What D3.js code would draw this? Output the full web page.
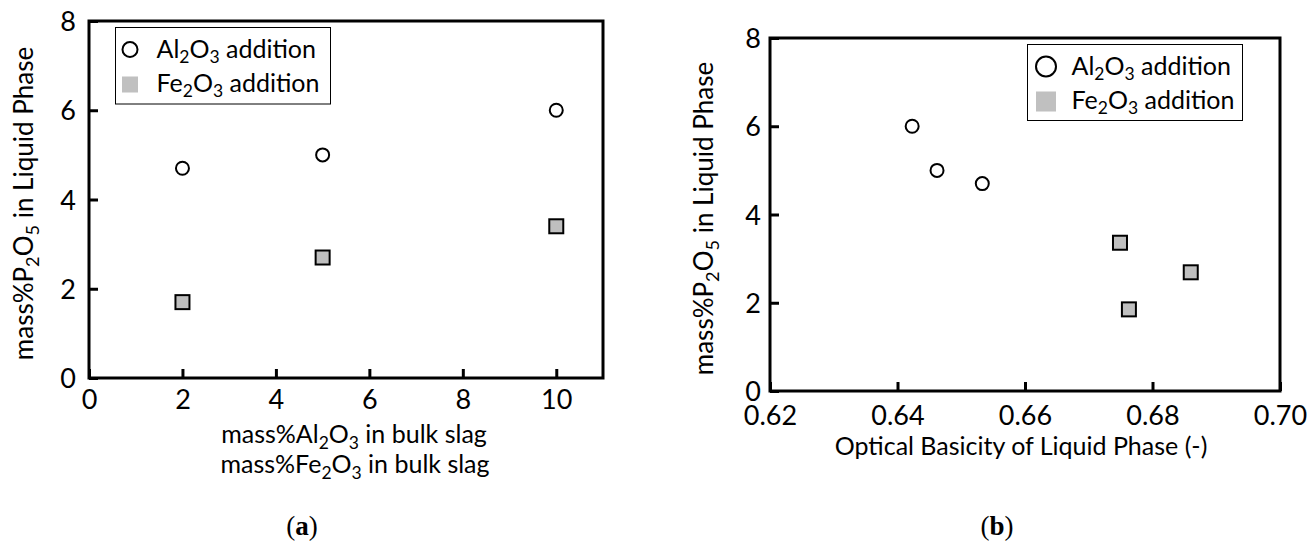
<!DOCTYPE html>
<html>
<head>
<meta charset="utf-8">
<script src="https://cdn.jsdelivr.net/npm/d3@7"></script>
<style>
  body { margin: 0; background: #fff; }
  svg text { font-family: Lato, "Open Sans", sans-serif; fill: #000; }
</style>
</head>
<body>
<script>
// values
var additions = [2, 5, 10];
var alP2O5 = [4.7, 5.0, 6.0];
var feP2O5 = [1.7, 2.7, 3.4];

var alBasicity = [0.6533, 0.6462, 0.6423];
var alP2O5b = [4.7, 5.0, 6.0];
var feBasicity = [0.6763, 0.6860, 0.6749];
var feP2O5b = [1.85, 2.69, 3.36];

var xTicksA = [0, 2, 4, 6, 8, 10];
var xTicksB = [0.62, 0.64, 0.66, 0.68, 0.70];
var yTicks = [0, 2, 4, 6, 8];

var svg = d3.select('body').append('svg')
    .attr('width', 1311).attr('height', 541);

// text with subscripts: parts = [[string, isSub], ...]
function richText(g, x, y, parts, size, anchor, rotate) {
    var t = g.append('text')
        .attr('x', x).attr('y', y)
        .attr('font-size', size)
        .attr('text-anchor', anchor || 'start');
    if (rotate) t.attr('transform', 'rotate(-90,' + x + ',' + y + ')');
    var shift = 0;
    parts.forEach(function(p) {
        var s = t.append('tspan').text(p[0]);
        var want = p[1] ? size * 0.22 : 0;
        s.attr('dy', want - shift);
        if (p[1]) s.attr('font-size', size * 0.7);
        shift = want;
    });
    return t;
}

var yTitle = [['mass%P', 0], ['2', 1], ['O', 0], ['5', 1], [' in Liquid Phase', 0]];
var alLabel = [['Al', 0], ['2', 1], ['O', 0], ['3', 1], [' addition', 0]];
var feLabel = [['Fe', 0], ['2', 1], ['O', 0], ['3', 1], [' addition', 0]];

function panel(cfg) {
    var g = svg.append('g');
    var x = d3.scaleLinear().domain(cfg.xDomain).range([cfg.left, cfg.right]);
    var y = d3.scaleLinear().domain([0, 8]).range([cfg.bottom, cfg.top]);

    // frame
    g.append('rect')
        .attr('x', cfg.left).attr('y', cfg.top)
        .attr('width', cfg.right - cfg.left).attr('height', cfg.bottom - cfg.top)
        .attr('fill', 'none').attr('stroke', '#000').attr('stroke-width', 3);

    // axes with inward ticks
    var xa = g.append('g').attr('transform', 'translate(0,' + cfg.bottom + ')')
        .call(d3.axisBottom(x).tickValues(cfg.xTicks).tickSize(-9).tickPadding(0)
            .tickFormat(cfg.xFormat));
    xa.select('.domain').remove();
    xa.selectAll('line').attr('stroke-width', 3);
    xa.selectAll('text').attr('y', cfg.xLabelDy).attr('dy', 0)
        .attr('font-size', 27).attr('font-family', 'Lato');

    var ya = g.append('g').attr('transform', 'translate(' + cfg.left + ',0)')
        .call(d3.axisLeft(y).tickValues(yTicks).tickSize(-9).tickPadding(0));
    ya.select('.domain').remove();
    ya.selectAll('line').attr('stroke-width', 3);
    ya.selectAll('text').attr('x', -cfg.yLabelGap).attr('dy', '0.36em')
        .attr('font-size', 27).attr('font-family', 'Lato');

    // data
    g.selectAll('.al').data(cfg.alX).enter().append('circle')
        .attr('cx', function(d) { return x(d); })
        .attr('cy', function(d, i) { return y(cfg.alY[i]); })
        .attr('r', 6.5).attr('fill', '#fff').attr('stroke', '#000').attr('stroke-width', 2);
    g.selectAll('.fe').data(cfg.feX).enter().append('rect')
        .attr('x', function(d) { return x(d) - 7; })
        .attr('y', function(d, i) { return y(cfg.feY[i]) - 7; })
        .attr('width', 14).attr('height', 14)
        .attr('fill', '#bfbfbf').attr('stroke', '#000').attr('stroke-width', 2);

    // legend
    var L = cfg.legend;
    g.append('rect').attr('x', L.x).attr('y', L.y).attr('width', L.w).attr('height', L.h)
        .attr('fill', '#fff').attr('stroke', '#000').attr('stroke-width', 1);
    g.append('circle').attr('cx', L.x + L.mk).attr('cy', L.y + 22).attr('r', L.r)
        .attr('fill', 'none').attr('stroke', '#000').attr('stroke-width', 2);
    g.append('rect').attr('x', L.x + L.mk - L.sq / 2).attr('y', L.y + 57 - L.sq / 2)
        .attr('width', L.sq).attr('height', L.sq).attr('fill', '#c0c0c0');
    richText(g, L.x + L.tx, L.y + 30, alLabel, 25);
    richText(g, L.x + L.tx, L.y + 64, feLabel, 25);

    // titles
    richText(g, cfg.yTitleX, (cfg.top + cfg.bottom) / 2 + 4, yTitle, 26, 'middle', true);
    cfg.xTitles.forEach(function(t) { richText(g, t.x, t.y, t.parts, 25, 'middle'); });

    var cap = g.append('text').attr('x', cfg.capX).attr('y', 535)
        .attr('text-anchor', 'middle').attr('font-size', 27)
        .style('font-family', '"Liberation Serif", serif');
    cap.append('tspan').text('(');
    cap.append('tspan').attr('font-weight', 'bold').text(cfg.cap);
    cap.append('tspan').text(')');
}

panel({
    left: 89, right: 603, top: 21, bottom: 378,
    xDomain: [0, 11], xTicks: xTicksA, xFormat: d3.format('d'),
    xLabelDy: 31, yLabelGap: 13,
    alX: additions, alY: alP2O5, feX: additions, feY: feP2O5,
    legend: { x: 115.5, y: 27.5, w: 215, h: 76.5, mk: 14.5, r: 7.5, sq: 16, tx: 41 },
    yTitleX: 33,
    xTitles: [
        { x: 354, y: 443, parts: [['mass%Al', 0], ['2', 1], ['O', 0], ['3', 1], [' in bulk slag', 0]] },
        { x: 355, y: 473, parts: [['mass%Fe', 0], ['2', 1], ['O', 0], ['3', 1], [' in bulk slag', 0]] }
    ],
    capX: 302, cap: 'a'
});

panel({
    left: 770, right: 1280, top: 38, bottom: 391,
    xDomain: [0.62, 0.70], xTicks: xTicksB, xFormat: d3.format('.2f'),
    xLabelDy: 34, yLabelGap: 9,
    alX: alBasicity, alY: alP2O5b, feX: feBasicity, feY: feP2O5b,
    legend: { x: 1027.5, y: 44.5, w: 215, h: 76, mk: 18.5, r: 10, sq: 20, tx: 44 },
    yTitleX: 713,
    xTitles: [
        { x: 1021, y: 455, parts: [['Optical Basicity of Liquid Phase (-)', 0]] }
    ],
    capX: 997, cap: 'b'
});
</script>
</body>
</html>
